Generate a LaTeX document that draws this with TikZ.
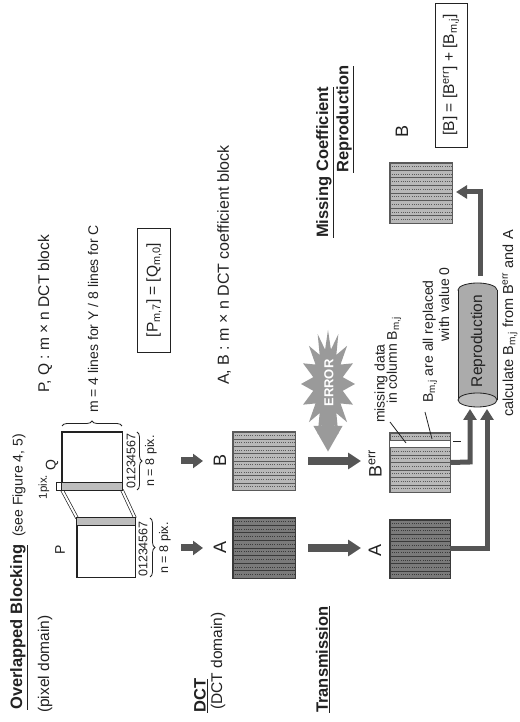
\documentclass[tikz,border=0pt]{standalone}
\usepackage{fontspec}
\setmainfont{Liberation Sans}
\usetikzlibrary{arrows.meta,calc,decorations.pathreplacing}
\definecolor{darkfill}{HTML}{7A7A7A}
\definecolor{darkline}{HTML}{3A3A3A}
\definecolor{lightfill}{HTML}{B8B8B8}
\definecolor{lightline}{HTML}{5A5A5A}
\definecolor{arrowgray}{HTML}{555555}
\definecolor{errfill}{HTML}{9A9A9A}
\definecolor{stripfill}{HTML}{BDBDBD}
\definecolor{cylfill}{HTML}{ABABAB}
\definecolor{inkc}{HTML}{222222}
\newcommand{\coefstripes}[2]{%
  \foreach \i in {1,...,7}{%
    \draw[#2, line width=0.6pt] ($(#1.north west)!\i/8!(#1.north east)$) -- ($(#1.south west)!\i/8!(#1.south east)$);}
  \foreach \i in {1,...,8}{%
    \draw[#2, line width=0.9pt, dash pattern=on 0.9pt off 1.3pt] ($(#1.north west)!{(\i-0.5)/8}!(#1.north east)$) -- ($(#1.south west)!{(\i-0.5)/8}!(#1.south east)$);}
  \draw[#2, line width=0.8pt] (#1.north west) rectangle (#1.south east);
}
\begin{document}
\begin{tikzpicture}[x=1pt,y=-1pt,
  ttl/.style={font=\fontsize{16.5}{19}\selectfont\bfseries, inner sep=0pt, anchor=west, text=inkc},
  txt/.style={font=\fontsize{15.5}{18}\selectfont, inner sep=0pt, text=inkc},
  stxt/.style={font=\fontsize{14}{16}\selectfont, inner sep=0pt, text=inkc},
  ttxt/.style={font=\fontsize{12.5}{14}\selectfont, inner sep=0pt, text=inkc},
  bigl/.style={font=\fontsize{18}{20}\selectfont, inner sep=0pt, text=inkc},
  coefblk/.style={rectangle, draw=#1line, fill=#1fill, line width=0.8pt, inner sep=0pt},
  pixblk/.style={rectangle, draw=inkc, fill=white, line width=0.9pt, inner sep=0pt},
  dctarrow/.style={draw=arrowgray, line width=7pt, -{Triangle[width=14pt,length=10pt]}},
  trarrow/.style={draw=arrowgray, line width=8pt, -{Triangle[width=16pt,length=13pt]}},
  larrow/.style={draw=arrowgray, line width=5pt, line join=miter, -{Triangle[width=13pt,length=11pt]}},
  eqbox/.style={draw=inkc, line width=0.9pt, inner sep=0pt},
  brc/.style={decorate, decoration={brace, amplitude=5pt}, draw=inkc, line width=0.8pt},
  pointer/.style={draw=inkc, line width=0.8pt}
]
\begin{scope}[rotate=90, transform shape]
\fill[white] (0,0) rectangle (722,519);
\useasboundingbox (0,0) rectangle (722,519);

% ---------- section titles ----------
\node[ttl] (tOB) at (12,19) {\underline{Overlapped Blocking}};
\node[stxt, anchor=west] (tSee) at (185,19) {(see Figure 4, 5)};
\node[txt, anchor=west] (tPix) at (9,45) {(pixel domain)};
\node[ttl] (tDCT) at (9,201) {\underline{DCT}};
\node[txt, anchor=west] (tDCTd) at (12,218) {(DCT domain)};
\node[ttl] (tTr) at (9,323) {\underline{Transmission}};
\node[ttl] (tMC) at (484,325) {\underline{Missing Coefficient}};
\node[ttl] (tRe) at (549,345) {\underline{Reproduction}};

% ---------- explanations ----------
\node[txt, anchor=west] (tPQ) at (329,45) {P, Q : m × n DCT block};
\node[stxt, anchor=west] (tm) at (309,93) {m = 4 lines for Y / 8 lines for C};
\node[eqbox, txt, minimum width=124pt, minimum height=33pt] (eq1) at (432,154) {[P\textsubscript{m,7}] = [Q\textsubscript{m,0}]};
\node[txt, anchor=west, font=\fontsize{16}{18}\selectfont] (tAB) at (337,224) {A, B : m × n DCT coefficient block};

% ---------- pixel blocks P and Q ----------
\draw[inkc, line width=0.7pt, double=white, double distance=2pt] (204,77) -- (232,62);
\draw[inkc, line width=0.7pt, double=white, double distance=2pt] (204,135) -- (232,122);
\node[pixblk, minimum width=59pt, minimum height=58pt] (Pblk) at (174.5,106) {};
\node[pixblk, minimum width=58pt, minimum height=60pt] (Qblk) at (261,92) {};
\draw[inkc, line width=0.7pt, fill=stripfill] ($(Pblk.north east)+(-8,0)$) rectangle (Pblk.south east);
\draw[inkc, line width=0.7pt, fill=stripfill] (Qblk.north west) rectangle ($(Qblk.south west)+(8,0)$);
\draw[inkc, line width=0.9pt] (Pblk.north west) rectangle (Pblk.south east);
\draw[inkc, line width=0.9pt] (Qblk.north west) rectangle (Qblk.south east);
\draw[inkc, line width=0.7pt] (Qblk.north west) -- ++(0,-5) -- ++(8,0) -- ++(0,5);
\node[stxt] (lP) at (172,60) {P};
\node[stxt] (lQ) at (257,52) {Q};
\node[font=\fontsize{11.5}{13}\selectfont, inner sep=0pt, text=inkc] (l1pix) at (235,44) {1pix.};
\node[ttxt] (dP) at (173,143) {01234567};
\node[ttxt] (dQ) at (261,131) {01234567};
\draw[brc] (204,150) -- (145,150);
\draw[brc] (290,137) -- (232,137);
\node[ttxt] (nP) at (174,165) {n = 8 pix.};
\node[ttxt] (nQ) at (261,151) {n = 8 pix.};
\draw[brc] (296,62) -- (296,122);

% ---------- DCT row ----------
\coordinate (dA0) at (174,181); \coordinate (dA1) at (174,203);
\coordinate (dB0) at (261,181); \coordinate (dB1) at (261,203);
\draw[dctarrow] (dA0) -- (dA1);
\draw[dctarrow] (dB0) -- (dB1);
\node[bigl] (lA1) at (174,220) {A};
\node[bigl] (lB1) at (261,220) {B};
\node[coefblk=dark, minimum width=60pt, minimum height=62pt] (A1) at (174,264) {};
\coefstripes{A1}{darkline}
\node[coefblk=light, minimum width=58pt, minimum height=62pt] (B1) at (261,264) {};
\coefstripes{B1}{lightline}

% ---------- transmission ----------
\coordinate (tA0) at (174,308); \coordinate (tA1) at (174,361);
\coordinate (tB0) at (261,308); \coordinate (tB1) at (261,361);
\draw[trarrow] (tA0) -- (tA1);
\draw[trarrow] (tB0) -- (tB1);
\node[bigl] (lA2) at (172,375) {A};
\node[bigl] (lBerr) at (258,375) {B\textsuperscript{err}};
\node[coefblk=dark, minimum width=58pt, minimum height=60pt] (A2) at (173,420) {};
\coefstripes{A2}{darkline}
\node[coefblk=light, minimum width=59pt, minimum height=60pt] (Berr) at (259.5,420) {};
\coefstripes{Berr}{lightline}
\draw[lightline, line width=0.7pt, fill=white] ($(Berr.north west)!6/8!(Berr.north east)$) rectangle ($(Berr.south west)!7/8!(Berr.south east)$);
\draw[inkc, line width=0.8pt] (281,453) -- (281,461);

% ERROR burst
\fill[errfill] plot[variable=\k, samples at={0,...,31}]
  ({338 + (44.5+9.5*cos(180*\k))*cos(\k*11.25)}, {328 + (21+6*cos(180*\k))*sin(\k*11.25)}) -- cycle;
\coordinate (eA) at (305,328); \coordinate (eB) at (270,328);
\draw[errfill, line width=12pt, -{Triangle[width=27pt,length=26pt]}] (eA) -- (eB);
\node[font=\fontsize{13}{15}\selectfont\bfseries, inner sep=0pt, text=white] (err) at (339,329) {ERROR};

% annotations
\node[stxt, anchor=west] (mis1) at (299,381) {missing data};
\node[stxt, anchor=west] (mis2) at (318,394) {in column B\textsubscript{m,j}};
\node[stxt, anchor=west] (rep1) at (319,430) {B\textsubscript{m,j} are all replaced};
\node[stxt, anchor=east] (rep2) at (455,444) {with value 0};
\coordinate (p1a) at (300,390); \coordinate (p1b) at (279,406);
\coordinate (p2a) at (310,425); \coordinate (p2b) at (283,432);
\draw[pointer] (p1a) -- (p1b);
\draw[pointer] (p2a) -- (p2b);

% ---------- reproduction cylinder ----------
\draw[inkc, fill=cylfill, line width=0.8pt] (432,477.5) ellipse [x radius=7, y radius=19.5];
\fill[cylfill] (322,458) rectangle (432,497);
\draw[inkc, line width=0.8pt] (322,458) -- (432,458) (322,497) -- (432,497);
\draw[inkc, fill=cylfill!80!white, line width=0.8pt] (322,477.5) ellipse [x radius=7, y radius=19.5];
\node[txt] (repro) at (381,478) {Reproduction};
\node[stxt, anchor=west, font=\fontsize{14.5}{16}\selectfont] (calc) at (305,510) {calculate B\textsubscript{m,j} from B\textsuperscript{err} and A};

\coordinate (r1) at (260,470); \coordinate (r1e) at (313,470);
\coordinate (r2) at (173,487); \coordinate (r2e) at (313,487);
\draw[larrow] (Berr.south) -- (r1) -- (r1e);
\draw[larrow] (A2.south) -- (r2) -- (r2e);

% ---------- result ----------
\node[coefblk=light, minimum width=60pt, minimum height=62pt] (Bfin) at (529,421) {};
\coefstripes{Bfin}{lightline}
\node[bigl] (lBfin) at (590,402) {B};
\coordinate (o0) at (446,480); \coordinate (o1) at (530,480); \coordinate (o2) at (530,456);
\draw[larrow] (o0) -- (o1) -- (o2);
\node[eqbox, txt, minimum width=144pt, minimum height=32pt] (eq2) at (647,451) {[B] = [B\textsuperscript{err}] + [B\textsubscript{m,j}]};
\end{scope}
\end{tikzpicture}
\end{document}
